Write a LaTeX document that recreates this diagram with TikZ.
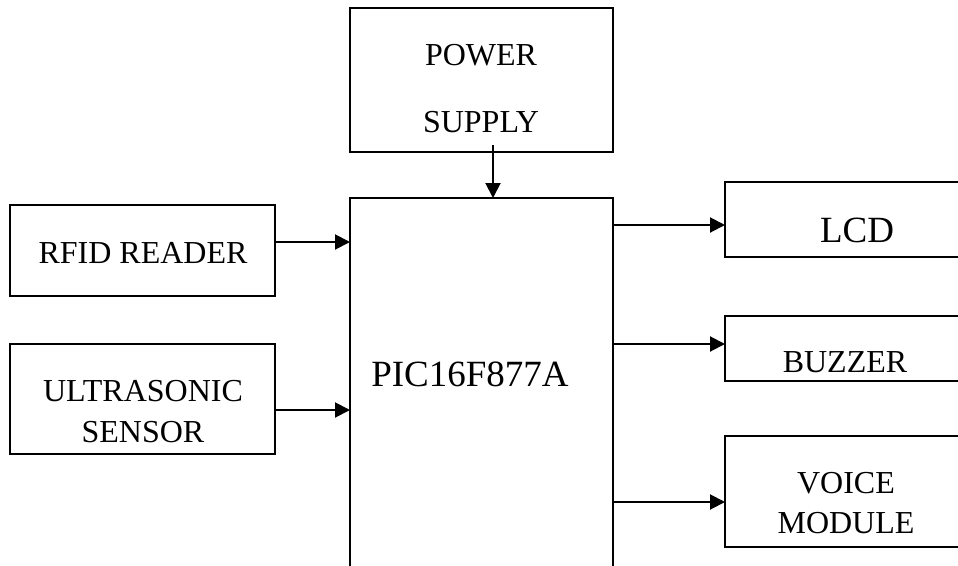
\documentclass[tikz,border=0pt]{standalone}
\usepackage{fontspec}
\setmainfont{Liberation Serif}
\usetikzlibrary{arrows.meta,calc}
\tikzset{
  blk/.style={draw=black,line width=2pt,rectangle,inner sep=0pt,outer sep=0pt,fill=none},
  lbl/.style={inner sep=0pt,outer sep=0pt,font=\fontsize{32}{38}\selectfont},
  biglbl/.style={inner sep=0pt,outer sep=0pt,font=\fontsize{37}{44}\selectfont},
  arr/.style={line width=2pt,-{Triangle[length=15pt,width=15pt]}}
}
\begin{document}
\begin{tikzpicture}[x=1pt,y=-1pt]
\useasboundingbox (0,0) rectangle (958,565);
\fill[white] (0,0) rectangle (958,565);
\clip (0,0) rectangle (958,565);
% blocks
\node[blk,minimum width=263pt,minimum height=144pt] (ps) at (481.5,80) {};
\node[blk,minimum width=263pt,minimum height=402pt] (pic) at (481.5,399) {};
\node[blk,minimum width=265pt,minimum height=91pt] (rfid) at (142.5,250.5) {};
\node[blk,minimum width=265pt,minimum height=110pt] (us) at (142.5,399) {};
\node[blk,minimum width=255pt,minimum height=75pt] (lcd) at (852.5,219.5) {};
\node[blk,minimum width=255pt,minimum height=65pt] (buz) at (852.5,348.5) {};
\node[blk,minimum width=255pt,minimum height=111pt] (voice) at (852.5,491.5) {};
% labels
\node[lbl] (t1) at (481,55) {POWER};
\node[lbl] (t2) at (481,122) {SUPPLY};
\node[biglbl] (t3) at (470,374) {PIC16F877A};
\node[lbl] (t4) at (143,253) {RFID READER};
\node[lbl] (t5) at (143,391) {ULTRASONIC};
\node[lbl] (t6) at (143,432) {SENSOR};
\node[biglbl] (t7) at (857,230) {LCD};
\node[lbl] (t8) at (845,362) {BUZZER};
\node[lbl] (t9) at (846,483) {VOICE};
\node[lbl] (t10) at (846,523) {MODULE};
% connector anchors
\coordinate (p0) at ($(ps.south)+(11.5,-7)$);
\coordinate (p1) at ($(pic.north)+(11.5,0)$);
\coordinate (a1) at ($(rfid.east)+(0,-8.5)$);
\coordinate (a2) at ($(us.east)+(0,11)$);
\coordinate (b1) at ($(lcd.west)+(0,5.5)$);
\coordinate (b2) at ($(buz.west)+(0,-4.5)$);
\coordinate (b3) at ($(voice.west)+(0,10.5)$);
% connectors
\draw[arr] (p0) -- (p1);
\draw[arr] (a1) -- (a1 -| pic.west);
\draw[arr] (a2) -- (a2 -| pic.west);
\draw[arr] (b1 -| pic.east) -- (b1);
\draw[arr] (b2 -| pic.east) -- (b2);
\draw[arr] (b3 -| pic.east) -- (b3);
\end{tikzpicture}
\end{document}
